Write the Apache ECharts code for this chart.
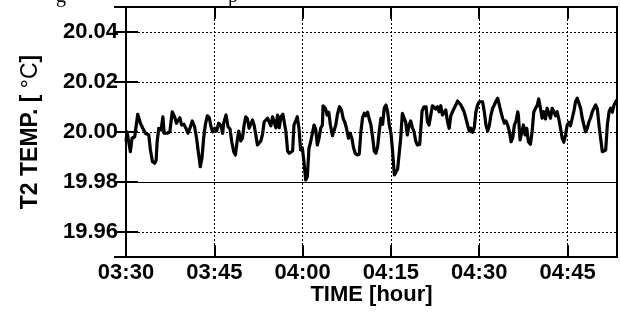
<!DOCTYPE html>
<html>
<head>
<meta charset="utf-8">
<script src="https://cdn.jsdelivr.net/npm/echarts@6/dist/echarts.min.js"></script>
<style>
html,body{margin:0;padding:0;background:#fff;}
#chart{width:620px;height:329px;}
</style>
</head>
<body>
<div id="chart"></div>
<script>
// minutes elapsed since 03:30
const minutes = [
0.00,0.18,0.46,0.74,1.03,1.48,1.99,2.45,2.85,3.30,3.87,4.15,4.49,4.89,5.12,5.29,5.57,5.97,6.26,6.48,6.99,7.45,7.85,8.25,8.58,8.87,9.15,9.44,9.83,10.18,10.52,10.86,11.25,11.65,11.99,12.28,12.62,12.90,13.19,13.47,13.81,14.15,14.44,14.72,15.06,15.40,15.74,16.08,16.42,
16.59,16.99,17.33,17.67,17.96,18.30,18.58,18.87,19.15,19.49,19.78,20.06,20.34,20.63,20.91,21.20,21.48,21.76,22.05,22.33,22.62,22.90,23.19,23.47,23.75,24.04,24.32,24.61,24.89,25.17,25.46,25.74,26.03,26.31,26.65,26.94,27.16,27.45,27.73,28.01,28.30,28.53,28.81,29.09,29.38,29.66,29.95,30.23,30.52,30.80,31.08,31.37,31.65,31.94,32.22,32.50,32.79,33.07,33.36,
33.47,33.87,34.16,34.44,34.72,35.07,35.35,35.63,35.92,36.26,36.60,36.88,37.17,37.45,37.79,38.08,38.36,38.65,38.93,39.27,39.61,39.90,40.18,40.46,40.75,41.03,41.32,41.60,41.88,42.17,42.45,42.74,43.02,43.30,43.59,43.87,44.16,44.44,44.72,45.01,45.29,45.58,45.86,46.14,46.43,46.66,46.94,47.23,47.51,47.79,48.08,48.36,48.65,48.93,49.21,49.50,
49.89,50.29,50.63,50.97,51.20,51.48,51.77,52.05,52.33,52.62,52.90,53.19,53.47,53.75,54.04,54.32,54.61,54.89,55.17,55.46,55.74,56.03,56.31,56.60,56.88,57.16,57.45,57.73,58.02,58.30,58.58,58.87,59.15,59.44,59.72,60.00,60.29,60.57,60.86,61.14,61.43,61.71,61.99,62.28,62.56,62.85,63.13,63.41,63.70,63.98,64.27,64.55,64.83,65.12,65.40,65.69,65.97,66.25,66.54,
66.65,66.93,67.22,67.50,67.78,68.07,68.35,68.69,68.98,69.26,69.55,69.83,70.11,70.40,70.68,70.97,71.25,71.53,71.82,72.10,72.39,72.67,72.95,73.24,73.52,73.81,74.09,74.37,74.66,74.94,75.23,75.51,75.80,76.08,76.36,76.65,76.93,77.22,77.50,77.78,78.07,78.35,78.64,78.92,79.20,79.49,79.77,80.06,80.34,80.62,80.91,81.19,81.48,81.76,82.05,82.33,82.61,82.90,83.18,83.40
];
// T2 temperature [°C]
const temps = [
19.9961,20.0001,19.9995,19.9921,19.9975,19.9981,20.0071,20.0035,20.0015,19.9995,19.9988,19.9928,19.9881,19.9875,19.9888,19.9961,20.0015,20.0008,20.0061,19.9995,19.9995,20.0001,20.0081,20.0061,20.0035,20.0041,20.0057,20.0028,20.0031,20.0015,19.9995,20.0015,20.0044,20.0021,19.9975,19.9921,19.9861,19.9895,19.9975,20.0028,20.0065,20.0057,20.0021,20.0001,20.0015,20.0004,20.0035,20.0028,19.9995,
20.0035,20.0068,20.0021,20.0012,19.9961,19.9921,19.9908,19.9961,20.0004,19.9964,19.9975,20.0028,20.0061,20.0052,20.0015,20.0017,20.0048,20.0028,19.9988,19.9948,19.9955,19.9964,19.9991,20.0041,20.0039,20.0055,20.0048,20.0025,20.0061,20.0055,20.0017,20.0068,20.0017,20.0061,20.0071,20.0068,20.0001,19.9924,19.9915,19.9915,19.9924,20.0028,20.0044,20.0061,20.0015,19.9928,19.9937,19.9881,19.9808,19.9821,19.9935,19.9961,19.9968,20.0028,20.0012,19.9948,19.9975,20.0015,20.0028,
20.0105,20.0095,20.0068,20.0079,20.0028,19.9985,19.9977,20.0028,20.0071,20.0101,20.0088,20.0055,20.0039,20.0015,19.9975,19.9995,19.9975,19.9937,19.9915,19.9908,19.9911,20.0001,20.0057,20.0075,20.0065,20.0079,20.0052,20.0028,19.9981,19.9924,19.9915,19.9941,20.0004,20.0055,20.0031,20.0097,20.0108,20.0081,20.0028,19.9995,19.9921,19.9828,19.9821,19.9852,19.9857,19.9975,20.0075,20.0057,20.0039,19.9988,20.0028,20.0044,20.0017,20.0001,19.9964,19.9948,
19.9950,20.0084,20.0101,20.0101,20.0041,20.0028,20.0068,20.0105,20.0111,20.0092,20.0101,20.0081,20.0105,20.0068,20.0061,20.0088,20.0041,20.0015,20.0065,20.0081,20.0095,20.0108,20.0124,20.0127,20.0108,20.0095,20.0079,20.0055,20.0028,20.0004,20.0015,19.9999,20.0017,20.0081,20.0108,20.0121,20.0113,20.0121,20.0081,20.0028,20.0004,20.0025,20.0068,20.0095,20.0108,20.0124,20.0135,20.0108,20.0079,20.0055,20.0035,20.0044,20.0028,20.0001,19.9961,19.9977,20.0028,20.0044,20.0081,
20.0068,19.9968,19.9964,20.0028,19.9988,20.0015,19.9961,19.9951,20.0001,20.0079,20.0095,20.0105,20.0132,20.0095,20.0055,20.0081,20.0052,20.0095,20.0101,20.0055,20.0095,20.0081,20.0065,20.0081,20.0052,20.0015,19.9975,19.9959,19.9988,20.0028,20.0039,20.0025,20.0055,20.0084,20.0121,20.0135,20.0127,20.0095,20.0055,20.0028,20.0001,20.0015,20.0041,20.0057,20.0081,20.0079,20.0108,20.0092,20.0028,19.9975,19.9921,19.9915,19.9928,20.0028,20.0081,20.0095,20.0079,20.0108,20.0121,20.0128
];
const xTickLabels = ['03:30','03:45','04:00','04:15','04:30','04:45'];
const yTickLabels = ['19.96','19.98','20.00','20.02','20.04'];
const solidGridValues = [19.98];

const seriesData = minutes.map((m, i) => [m, temps[i]]);

const FONT = 'Liberation Sans, Arial, sans-serif';
const chart = echarts.init(document.getElementById('chart'), null, {renderer: 'canvas'});
const tickStyle = {show: true, inside: true, length: 12, lineStyle: {color: '#000', width: 2}};
const axisLineStyle = {show: true, lineStyle: {color: '#000', width: 2}};

chart.setOption({
  animation: false,
  backgroundColor: '#fff',
  grid: {left: 126, right: 3, top: 7, bottom: 72, show: true, borderColor: '#000', borderWidth: 2,
         containLabel: false, outerBoundsMode: 'none'},
  graphic: [
    {type: 'text', left: 56, top: -13, style: {text: 'g', font: '20px "Liberation Serif", serif', fill: '#000'}},
    {type: 'text', left: 228, top: -13, style: {text: 'p', font: '20px "Liberation Serif", serif', fill: '#000'}}
  ],
  xAxis: [{
    type: 'value', min: 0, max: 83.4, interval: 15, position: 'bottom',
    axisLine: axisLineStyle, axisTick: tickStyle,
    axisLabel: {
      showMaxLabel: false, margin: 5, color: '#000', fontSize: 22, fontWeight: 'bold', fontFamily: FONT,
      formatter: v => { const k = Math.round(v / 15); return Math.abs(v - k * 15) < 1e-6 && xTickLabels[k] ? xTickLabels[k] : ''; }
    },
    splitLine: {show: true, lineStyle: {color: '#000', width: 1, type: [2, 2]}},
    name: 'TIME [hour]', nameLocation: 'middle', nameGap: 38, nameMoveOverlap: false,
    nameTextStyle: {color: '#000', fontSize: 22, fontWeight: 'bold', fontFamily: FONT, verticalAlign: 'middle'}
  }, {
    type: 'value', min: 0, max: 83.4, interval: 15, position: 'top',
    axisLine: axisLineStyle, axisTick: tickStyle, axisLabel: {show: false}, splitLine: {show: false}
  }],
  yAxis: [{
    type: 'value', min: 19.95, max: 20.05, splitNumber: 5, position: 'left',
    axisLine: axisLineStyle, axisTick: tickStyle,
    axisLabel: {
      showMinLabel: false, showMaxLabel: false, margin: 8, color: '#000', fontSize: 22, fontWeight: 'bold', fontFamily: FONT,
      formatter: v => { const s = v.toFixed(2); return yTickLabels.includes(s) ? s : ''; }
    },
    splitLine: {show: true, lineStyle: {color: '#000', width: 1, type: [2, 2]}},
    name: 'T2 TEMP. [ {n|°C}]', nameLocation: 'middle', nameGap: 84,
    nameTextStyle: {color: '#000', fontSize: 23, fontWeight: 'bold', fontFamily: FONT,
      rich: {n: {fontSize: 23, fontWeight: 'normal', fontFamily: FONT, color: '#000'}}}
  }, {
    type: 'value', min: 19.95, max: 20.05, splitNumber: 5, position: 'right',
    axisLine: axisLineStyle, axisTick: tickStyle, axisLabel: {show: false}, splitLine: {show: false}
  }],
  series: [{
    type: 'line', data: seriesData, xAxisIndex: 0, yAxisIndex: 0,
    showSymbol: false, symbol: 'none', smooth: false,
    lineStyle: {color: '#000', width: 3.2, join: 'round'},
    markLine: {
      silent: true, symbol: 'none', label: {show: false},
      lineStyle: {color: '#000', width: 1, type: 'solid'},
      data: solidGridValues.map(v => ({yAxis: v}))
    },
    z: 5
  }]
});
</script>
</body>
</html>
